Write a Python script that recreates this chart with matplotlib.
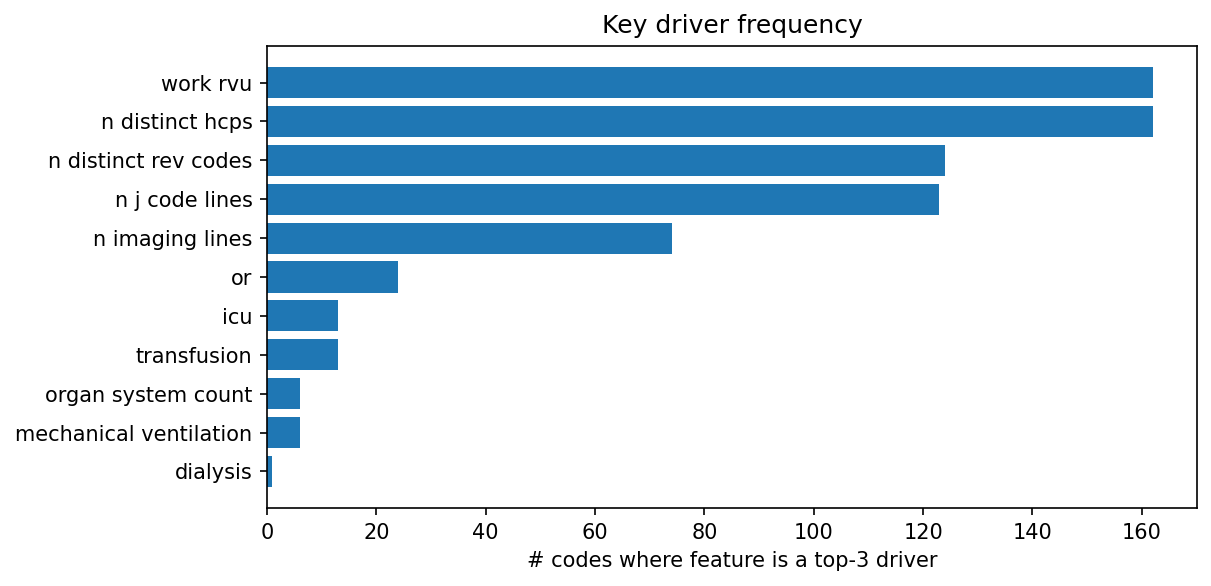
import matplotlib
matplotlib.use("Agg")
import matplotlib.pyplot as plt

features = [
    "work rvu",
    "n distinct hcps",
    "n distinct rev codes",
    "n j code lines",
    "n imaging lines",
    "or",
    "icu",
    "transfusion",
    "organ system count",
    "mechanical ventilation",
    "dialysis",
]
counts = [162, 162, 124, 123, 74, 24, 13, 13, 6, 6, 1]

fig = plt.figure(figsize=(1211 / 150, 586 / 150), dpi=150)
ax = fig.add_axes([267 / 1211, 1 - 508 / 586, (1197 - 267) / 1211, (508 - 46) / 586])

ax.barh(features[::-1], counts[::-1], color="#1f77b4")
ax.set_title("Key driver frequency")
ax.set_xlabel("# codes where feature is a top-3 driver")

fig.savefig("out.png", dpi=150)
